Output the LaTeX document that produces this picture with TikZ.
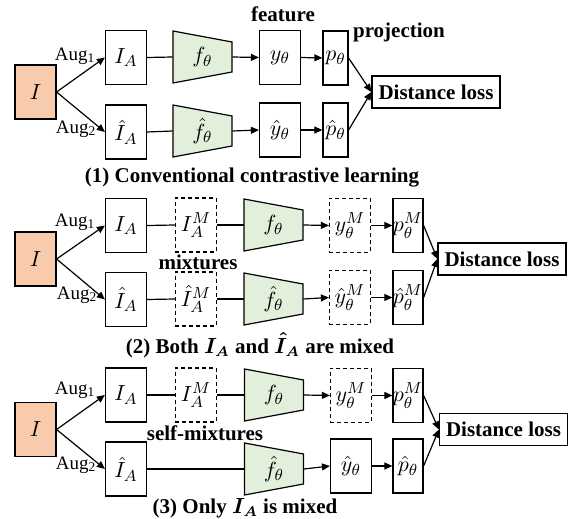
\documentclass[tikz,border=0pt]{standalone}
\usepackage{fontspec}
\usepackage{amsmath}
\setmainfont{Liberation Serif}
\usepackage{tikz}
\usetikzlibrary{arrows.meta, positioning, calc}
\definecolor{ImgPeach}{RGB}{248, 203, 173}
\definecolor{EncGreen}{RGB}{226, 239, 218}

\tikzset{
  box/.style={draw, line width=0.6pt, minimum width=20.5pt, minimum height=27pt, inner sep=0pt,
    font=\fontsize{11}{13}\selectfont},
  imgbox/.style={box, fill=ImgPeach},
  mixbox/.style={box, dashed, dash pattern=on 2pt off 1.5pt},
  projbox/.style={box, minimum width=15pt},
  encbox/.style={minimum width=29.5pt, minimum height=26pt, inner sep=0pt,
    font=\fontsize{11}{13}\selectfont},
  encfill/.style={draw, line width=0.6pt, fill=EncGreen},
  lossbox/.style={draw, line width=0.6pt, minimum width=64pt, minimum height=16pt, inner sep=0pt,
    font=\fontsize{10.5}{12}\selectfont\bfseries},
  lbl/.style={inner sep=0pt, font=\fontsize{10.5}{12}\selectfont\bfseries},
  captext/.style={inner sep=0pt, font=\fontsize{10.5}{12}\selectfont\bfseries},
  aug/.style={inner sep=0pt, font=\fontsize{9.5}{11}\selectfont},
  line/.style={line width=0.6pt},
  arr/.style={line width=0.6pt, -{Triangle[length=4pt,width=3.5pt]}},
}

% encoder: trapezoid drawn round a named node
\newcommand{\encoder}[3]{%
  \filldraw[encfill] ($(#2)+(-29.5,-26)$) -- ($(#2)+(29.5,-15)$)
    -- ($(#2)+(29.5,15)$) -- ($(#2)+(-29.5,26)$) -- cycle;
  \node[encbox] (#1) at (#2) {#3};}

\begin{document}
\begin{tikzpicture}[x=0.5pt, y=-0.5pt]
  \useasboundingbox (0,0) rectangle (575,519);

  % (1) conventional
  \node[imgbox] (img1) at (35.5,92) {$I$};
  \node[box] (ia1) at (126,57.5) {$I_A$};
  \node[box] (ib1) at (126,132) {$\hat{I}_A$};
  \encoder{fa1}{202.5,57}{$f_\theta$}
  \encoder{fb1}{202.5,131}{$\hat{f}_\theta$}
  \node[box] (ya1) at (280,57.5) {$y_\theta$};
  \node[box] (yb1) at (280,130) {$\hat{y}_\theta$};
  \node[projbox, minimum width=12.5pt] (pa1) at (335.5,58) {$p_\theta$};
  \node[projbox, minimum width=12.5pt] (pb1) at (335.5,130) {$\hat{p}_\theta$};
  \node[lossbox] (loss1) at (436,92) {Distance loss};
  \node[aug] (auga1) at (75,56) {Aug\textsubscript{1}};
  \node[aug] (augb1) at (76,129) {Aug\textsubscript{2}};
  \node[lbl] (feat) at (283,14) {feature};
  \node[lbl] (proj) at (399,32) {projection};
  \node[captext] (cap1) at (252,178) {(1) Conventional contrastive learning};

  \draw[arr] (img1.east) -- (ia1.west);
  \draw[arr] (img1.east) -- (ib1.west);
  \draw[line] (ia1.east) -- (fa1.west);
  \draw[line] (ib1.east) -- (fb1.west);
  \draw[arr] (fa1.east) -- (ya1.west);
  \draw[arr] (fb1.east) -- (yb1.west);
  \draw[arr] (ya1.east) -- (pa1.west);
  \draw[arr] (yb1.east) -- (pb1.west);
  \draw[arr] (pa1.east) -- (loss1.west);
  \draw[arr] (pb1.east) -- (loss1.west);

  % (2) both mixed
  \node[imgbox] (img2) at (35.5,259) {$I$};
  \node[box] (ia2) at (126,225.5) {$I_A$};
  \node[box] (ib2) at (126,299.5) {$\hat{I}_A$};
  \node[mixbox] (ma2) at (196,225) {$I_A^M$};
  \node[mixbox] (mb2) at (196,299) {$\hat{I}_A^M$};
  \encoder{fa2}{273.5,225}{$f_\theta$}
  \encoder{fb2}{273.5,299}{$\hat{f}_\theta$}
  \node[mixbox] (ya2) at (350,225.5) {$y_\theta^M$};
  \node[mixbox] (yb2) at (350,297.5) {$\hat{y}_\theta^M$};
  \node[projbox] (pa2) at (408,225.5) {$p_\theta^M$};
  \node[projbox] (pb2) at (408,297.5) {$\hat{p}_\theta^M$};
  \node[lossbox] (loss2) at (502,259) {Distance loss};
  \node[aug] (auga2) at (75,222) {Aug\textsubscript{1}};
  \node[aug] (augb2) at (77,295) {Aug\textsubscript{2}};
  \node[lbl] (mix) at (198,262) {mixtures};
  \node[captext] (cap2) at (260,345) {(2) Both $\boldsymbol{I_A}$ and $\boldsymbol{\hat{I}_A}$ are mixed};

  \draw[arr] (img2.east) -- (ia2.west);
  \draw[arr] (img2.east) -- (ib2.west);
  \draw[line] (ia2.east) -- (ma2.west);
  \draw[line] (ib2.east) -- (mb2.west);
  \draw[line] (ma2.east) -- (fa2.west);
  \draw[line] (mb2.east) -- (fb2.west);
  \draw[arr] (fa2.east) -- (ya2.west);
  \draw[arr] (fb2.east) -- (yb2.west);
  \draw[arr] (ya2.east) -- (pa2.west);
  \draw[arr] (yb2.east) -- (pb2.west);
  \draw[arr] (pa2.east) -- (loss2.west);
  \draw[arr] (pb2.east) -- (loss2.west);

  % (3) only I_A mixed
  \node[imgbox] (img3) at (35.5,429.5) {$I$};
  \node[box] (ia3) at (126,395) {$I_A$};
  \node[box] (ib3) at (126,469) {$\hat{I}_A$};
  \node[mixbox] (ma3) at (196,395) {$I_A^M$};
  \encoder{fa3}{274,395}{$f_\theta$}
  \encoder{fb3}{274,469}{$\hat{f}_\theta$}
  \node[mixbox] (ya3) at (351,395.5) {$y_\theta^M$};
  \node[box] (yb3) at (351,466) {$\hat{y}_\theta$};
  \node[projbox] (pa3) at (408,395.5) {$p_\theta^M$};
  \node[projbox] (pb3) at (408,466) {$\hat{p}_\theta$};
  \node[lossbox] (loss3) at (503.5,429.5) {Distance loss};
  \node[aug] (auga3) at (75,390) {Aug\textsubscript{1}};
  \node[aug] (augb3) at (76,465) {Aug\textsubscript{2}};
  \node[lbl] (smix) at (205,433) {self-mixtures};
  \node[captext] (cap3) at (245,508) {(3) Only $\boldsymbol{I_A}$ is mixed};

  \draw[arr] (img3.east) -- (ia3.west);
  \draw[arr] (img3.east) -- (ib3.west);
  \draw[line] (ia3.east) -- (ma3.west);
  \draw[line] (ma3.east) -- (fa3.west);
  \draw[line] (ib3.east) -- (fb3.west);
  \draw[arr] (fa3.east) -- (ya3.west);
  \draw[arr] (fb3.east) -- (yb3.west);
  \draw[arr] (ya3.east) -- (pa3.west);
  \draw[arr] (yb3.east) -- (pb3.west);
  \draw[arr] (pa3.east) -- (loss3.west);
  \draw[arr] (pb3.east) -- (loss3.west);
\end{tikzpicture}
\end{document}
